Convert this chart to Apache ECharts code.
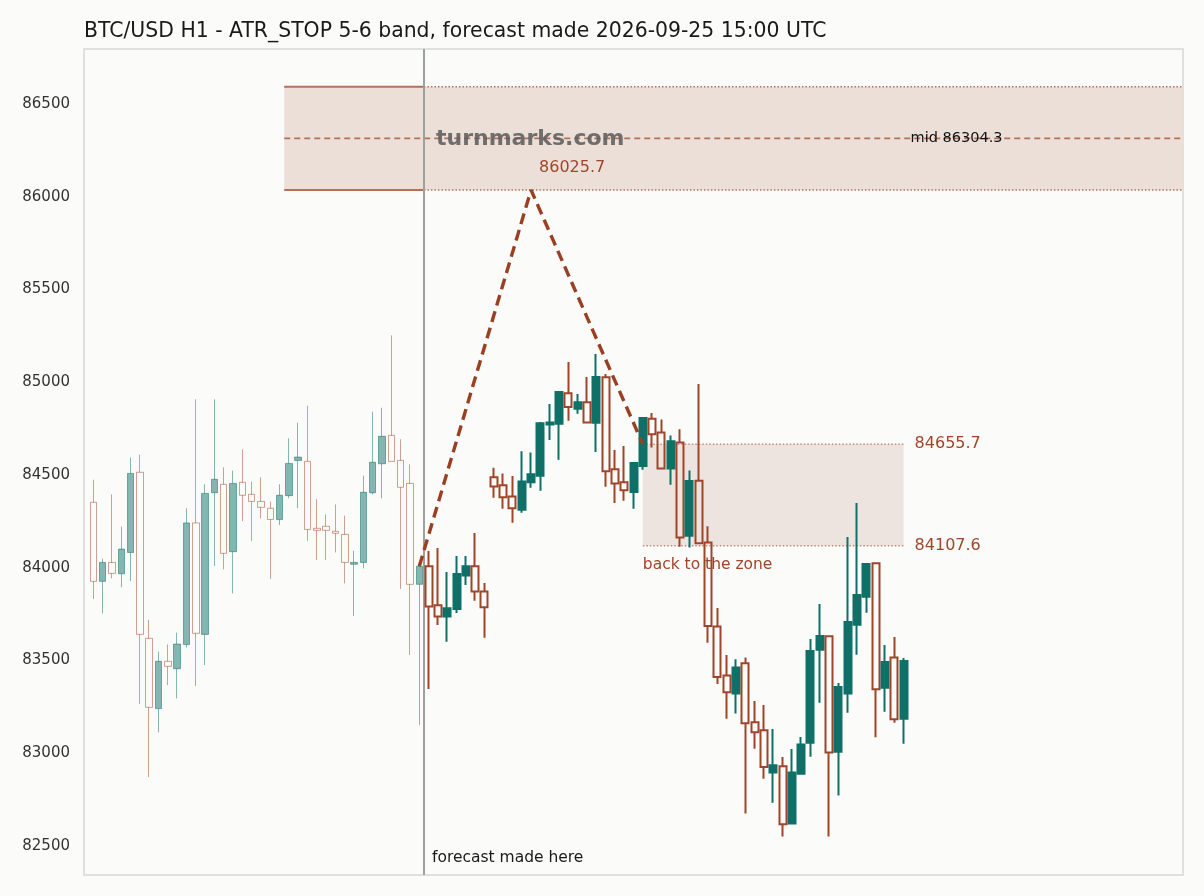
<!DOCTYPE html>
<html><head><meta charset="utf-8">
<script src="https://cdn.jsdelivr.net/npm/echarts@6/dist/echarts.min.js"></script>
<style>html,body{margin:0;padding:0;background:#fbfbf9;} #c{width:1204px;height:896px;}</style>
</head><body><div id="c"></div>
<script>
// historical candles, index 0..35 : [open, close, low, high]
const histCandles = [
 [84342,83916,83821,84464],[83916,84018,83744,84038],[84018,83959,83932,84385],[83957,84090,83884,84211],
 [84072,84498,83918,84583],[84504,83630,83255,84599],[83609,83237,82861,83709],[83230,83485,83102,83537],
 [83485,83458,83357,83576],[83445,83578,83285,83639],[83575,84231,83560,84310],[84231,83636,83352,84897],
 [83630,84390,83465,84439],[84394,84466,83999,84897],[84439,84067,83981,84531],[84076,84444,83851,84513],
 [84450,84380,84241,84628],[84385,84347,84134,84453],[84347,84315,84256,84477],[84310,84250,83929,84346],
 [84249,84380,84220,84439],[84378,84552,84364,84687],[84568,84586,84310,84771],[84563,84196,84135,84863],
 [84202,84191,84031,84358],[84213,84191,84031,84277],[84186,84175,84072,84331],[84169,84018,83905,84270],
 [84008,84018,83729,84081],[84018,84396,83986,84486],[84394,84558,84385,84831],[84550,84698,84364,84852],
 [84703,84563,84563,85242],[84568,84423,83875,84682],[84444,83900,83519,84547],[83900,83997,83142,83997]
];
// candles after the forecast time, index 36..87 : [open, close, low, high]
const futureCandles = [
 [83997,83781,83336,84080],[83787,83726,83681,84096],[83726,83771,83591,83966],[83767,83956,83745,84053],
 [83947,83997,83896,84053],[83997,83862,83812,84177],[83862,83776,83612,83907],[84477,84428,84367,84529],
 [84434,84369,84308,84498],[84374,84310,84232,84484],[84302,84455,84286,84617],[84450,84493,84421,84611],
 [84486,84768,84405,84775],[84762,84773,84678,84872],[84766,84937,84572,84940],[84930,84856,84782,85098],
 [84847,84881,84820,84926],[84881,84773,84773,85018],[84771,85018,84613,85142],[85016,84509,84426,85034],
 [84520,84444,84338,84624],[84450,84407,84351,84646],[84398,84554,84308,84556],[84538,84797,84518,84802],
 [84793,84709,84637,84824],[84718,84525,84525,84789],[84524,84671,84437,84703],[84664,84153,84103,84736],
 [84162,84457,84098,84514],[84459,84121,84121,84980],[84126,83675,83585,84213],[83673,83400,83363,83772],
 [83408,83318,83176,83519],[83312,83452,83203,83496],[83474,83151,82665,83506],[83156,83102,83014,83271],
 [83113,82915,82852,83249],[82885,82924,82723,83120],[82919,82606,82540,82969],[82610,82886,82608,83012],
 [82879,83037,82877,83077],[83046,83540,82971,83605],[83548,83621,83262,83794],[83620,82994,82540,83622],
 [82998,83346,82761,83368],[83311,83697,83208,84155],[83682,83842,83521,84338],[83833,84010,83747,84015],
 [84013,83334,83075,84013],[83343,83481,83213,83573],[83506,83172,83154,83616],[83176,83487,83041,83503]
];
const yTicks = [82500,83000,83500,84000,84500,85000,85500,86000,86500];
const forecastIndex = 35.5;
const bandStart = 20.5;
const bandLow = 86025.7, bandMid = 86304.3, bandHigh = 86582.9;
const zoneStart = 59, zoneEnd = 87;
const zoneHigh = 84655.7, zoneLow = 84107.6;
const pathPoints = [[35, 83997], [47, 86025.7], [59, 84655.7]];
const xMin = -1, xMax = 117;

const FONT = 'DejaVu Sans';
const TEAL = '#0f7068', BROWN = '#a0452a';
const histData = histCandles.map((c, i) => [i, ...c]);
const futData = futureCandles.map((c, i) => [i + histCandles.length, ...c]);

function seg(pts, color, width, type, z) {
  return { type: 'line', data: pts, symbol: 'none', silent: true, z: z || 3,
    lineStyle: { color: color, width: width, type: type }, animation: false };
}
const bandLineC = '#b5705b';
const dotted = [1.5, 2];

const chart = echarts.init(document.getElementById('c'));
chart.setOption({
  animation: false,
  backgroundColor: '#fbfbf9',
  title: { text: 'BTC/USD H1 - ATR_STOP 5-6 band, forecast made 2026-09-25 15:00 UTC',
    left: 84, top: 22, padding: 0, textStyle: { fontFamily: FONT, fontSize: 20.4, fontWeight: 'normal', color: '#1a1a1a' } },
  grid: { left: 84, right: 21, top: 49, bottom: 21, show: true, borderColor: '#d6d9d6', borderWidth: 1.5, backgroundColor: 'transparent' },
  xAxis: { type: 'value', min: xMin, max: xMax, show: false, splitLine: { show: false } },
  yAxis: { type: 'value', min: 82333, max: 86786, splitLine: { show: false },
    axisLine: { show: false, onZero: false },
    axisTick: { show: false },
    axisLabel: { customValues: yTicks, margin: 14, fontFamily: FONT, fontSize: 15, color: '#333',
      formatter: v => '{a|' + v + '}',
      rich: { a: { fontFamily: FONT, fontSize: 15, color: '#333', padding: [4, 0, 0, 0] } } } },
  graphic: [{ type: 'text', left: 436, top: 128, z: 50,
    style: { text: 'turnmarks.com', font: 'bold 22px "DejaVu Sans"', fill: 'rgba(90,90,90,0.85)' } }],
  series: [
    { type: 'candlestick', name: 'hist', data: histData, encode: { x: 0, y: [1, 2, 3, 4] }, barWidth: 7, z: 5,
      itemStyle: { color: TEAL, color0: 'rgba(0,0,0,0)', borderColor: TEAL, borderColor0: BROWN, borderWidth: 1, opacity: 0.5 },
      markArea: { silent: true, itemStyle: { color: '#ecdfd8' },
        data: [[{ xAxis: bandStart, yAxis: bandLow }, { xAxis: xMax, yAxis: bandHigh }]] },
      markLine: { silent: true, symbol: 'none', label: { show: false },
        lineStyle: { color: '#9da19d', width: 2, type: 'solid' }, data: [{ xAxis: forecastIndex }] } },
    { type: 'candlestick', name: 'future', data: futData, encode: { x: 0, y: [1, 2, 3, 4] }, barWidth: 7.5, z: 6,
      itemStyle: { color: TEAL, color0: 'rgba(0,0,0,0)', borderColor: TEAL, borderColor0: BROWN, borderWidth: 2 },
      markArea: { silent: true, itemStyle: { color: '#ede4df' },
        data: [[{ xAxis: zoneStart, yAxis: zoneLow }, { xAxis: zoneEnd, yAxis: zoneHigh }]] } },
    seg([[bandStart, bandHigh], [forecastIndex, bandHigh]], bandLineC, 2, 'solid'),
    seg([[bandStart, bandLow], [forecastIndex, bandLow]], bandLineC, 2, 'solid'),
    seg([[forecastIndex, bandHigh], [xMax, bandHigh]], bandLineC, 1.5, dotted),
    seg([[forecastIndex, bandLow], [xMax, bandLow]], bandLineC, 1.5, dotted),
    seg([[bandStart, bandMid], [xMax, bandMid]], bandLineC, 1.8, [6, 4]),
    seg([[zoneStart, zoneHigh], [zoneEnd, zoneHigh]], '#c08a7a', 1.5, dotted),
    seg([[zoneStart, zoneLow], [zoneEnd, zoneLow]], '#c08a7a', 1.5, dotted),
    seg(pathPoints, '#9a3f22', 3.4, [11, 6], 8),
    { type: 'scatter', symbolSize: 0, silent: true, z: 20, itemStyle: { opacity: 1 },
      label: { show: true, fontFamily: FONT },
      data: [
        { value: [47, bandLow], label: { formatter: String(bandLow), position: 'right', offset: [3, -22], fontSize: 16, color: BROWN, align: 'left' } },
        { value: [zoneEnd, bandMid], label: { formatter: 'mid ' + bandMid, position: 'right', offset: [2, 0], fontSize: 14.5, color: '#111', align: 'left' } },
        { value: [zoneEnd, zoneHigh], label: { formatter: String(zoneHigh), position: 'right', offset: [6, 0], fontSize: 16, color: BROWN, align: 'left' } },
        { value: [zoneEnd, zoneLow], label: { formatter: String(zoneLow), position: 'right', offset: [6, 0], fontSize: 16, color: BROWN, align: 'left' } },
        { value: [zoneStart, zoneLow], label: { formatter: 'back to the zone', position: 'right', offset: [-5, 19], fontSize: 15.5, color: BROWN, align: 'left' } },
        { value: [forecastIndex, 82333], label: { formatter: 'forecast made here', position: 'right', offset: [3, -17], fontSize: 15.5, color: '#1a1a1a', align: 'left' } }
      ] }
  ]
});
</script></body></html>
